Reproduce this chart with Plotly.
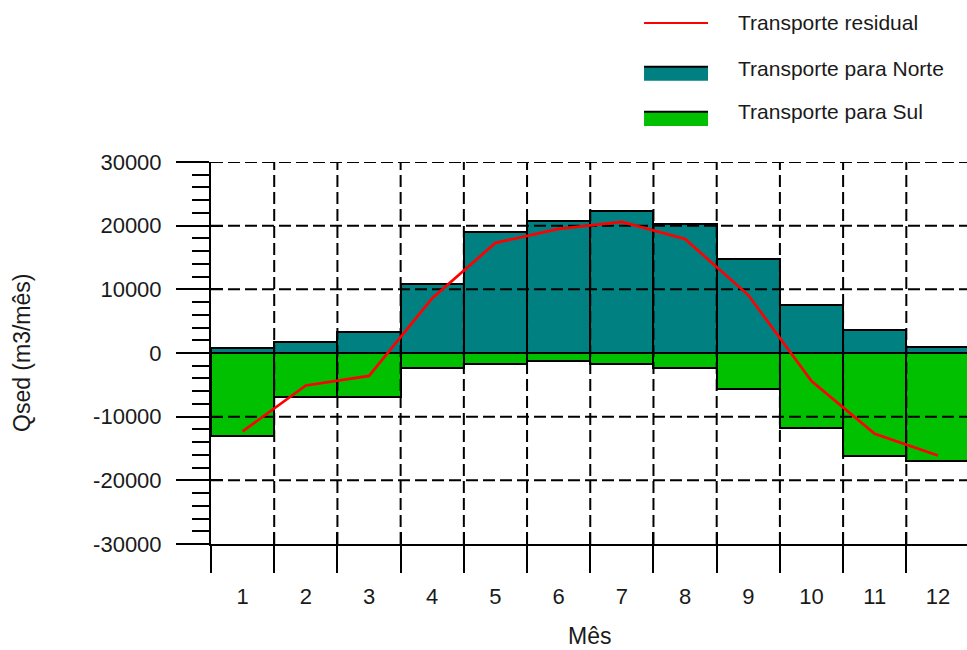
import plotly.graph_objects as go

# Monthly sediment transport (m3/month)
meses = list(range(1, 13))
rotulos_mes = [str(m) for m in meses]
transporte_norte = [800, 1700, 3300, 10800, 19000, 20800, 22300, 20200, 14800, 7500, 3600, 1000]
transporte_sul = [-13000, -6900, -6900, -2300, -1700, -1200, -1700, -2350, -5600, -11800, -16200, -16900]
transporte_residual = [-12300, -5100, -3600, 8600, 17300, 19500, 20600, 17900, 9100, -4400, -12700, -16100]

y_ticks = [-30000, -20000, -10000, 0, 10000, 20000, 30000]
y_ticktext = [str(v) for v in y_ticks]

FONT = "Liberation Sans, Arial, sans-serif"
TEXT = "#1a1a1a"
TEAL = "rgb(0,128,128)"
GREEN = "rgb(0,192,0)"

x_range = [0.5, 12.46]
y_range = [-30000, 30000]
fronteiras = [m + 0.5 for m in [0] + meses]

fig = go.Figure()

fig.add_trace(go.Bar(
    x=meses, y=transporte_norte, name="Transporte para Norte",
    marker=dict(color=TEAL, line=dict(color="black", width=2)),
    showlegend=False,
))
fig.add_trace(go.Bar(
    x=meses, y=transporte_sul, name="Transporte para Sul",
    marker=dict(color=GREEN, line=dict(color="black", width=2)),
    showlegend=False,
))

# dashed grid drawn over the bars
gx, gy = [], []
for v in y_ticks[1:]:
    gx += [fronteiras[0], fronteiras[-1], None]
    gy += [v, v, None]
for b in fronteiras[1:]:
    gx += [b, b, None]
    gy += [y_range[0], y_range[1], None]
fig.add_trace(go.Scatter(
    x=gx, y=gy, mode="lines", hoverinfo="skip", showlegend=False,
    line=dict(color="black", width=2, dash="12px,5px"),
))

fig.add_trace(go.Scatter(
    x=meses, y=transporte_residual, name="Transporte residual",
    mode="lines", line=dict(color="red", width=2.7), showlegend=False,
))

# empty traces so the overlay tick axes get drawn
for xa, ya in [("x2", "y"), ("x3", "y"), ("x", "y2")]:
    fig.add_trace(go.Scatter(
        x=[None], y=[None], xaxis=xa, yaxis=ya, mode="markers",
        hoverinfo="skip", showlegend=False,
    ))

axis_common = dict(showgrid=False, zeroline=False)

fig.update_layout(
    width=967, height=650,
    margin=dict(l=211, r=0, t=162, b=106),
    paper_bgcolor="white", plot_bgcolor="white",
    barmode="relative", bargap=0,
    font=dict(family=FONT, color=TEXT),
    xaxis=dict(
        range=x_range, tickmode="array", tickvals=meses, ticktext=rotulos_mes,
        ticks="", showline=True, linecolor="black", linewidth=2,
        tickfont=dict(family=FONT, size=22, color=TEXT),
        ticklabelstandoff=32, **axis_common,
    ),
    xaxis2=dict(
        overlaying="x", anchor="y", side="bottom", range=x_range,
        tickmode="array", tickvals=fronteiras, ticks="outside", ticklen=28,
        tickwidth=2, tickcolor="black", showticklabels=False, showline=False,
        **axis_common,
    ),
    xaxis3=dict(
        overlaying="x", anchor="y", side="bottom", range=x_range,
        tickmode="array", tickvals=fronteiras, ticks="inside", ticklen=12,
        tickwidth=2, tickcolor="black", showticklabels=False, showline=False,
        **axis_common,
    ),
    yaxis=dict(
        range=y_range, tickmode="array", tickvals=y_ticks, ticktext=y_ticktext,
        ticks="outside", ticklen=33, tickwidth=2, tickcolor="black",
        minor=dict(ticks="outside", ticklen=17, tickwidth=2, tickcolor="black",
                   tickmode="linear", tick0=0, dtick=2000, showgrid=False),
        showline=True, linecolor="black", linewidth=2,
        tickfont=dict(family=FONT, size=22, color=TEXT),
        ticklabelstandoff=10, **axis_common,
    ),
    yaxis2=dict(
        overlaying="y", anchor="x", side="left", range=y_range,
        tickmode="array", tickvals=y_ticks, ticks="inside", ticklen=12,
        tickwidth=2, tickcolor="black", showticklabels=False, showline=False,
        **axis_common,
    ),
)

# axis titles
fig.add_annotation(
    text="Qsed (m3/mês)", xref="paper", yref="paper", x=-0.25, y=0.5,
    xanchor="center", yanchor="middle", textangle=-90, showarrow=False,
    font=dict(family=FONT, size=23, color=TEXT),
)
fig.add_annotation(
    text="Mês", xref="paper", yref="paper", x=0.5, y=-0.241,
    xanchor="center", yanchor="middle", showarrow=False,
    font=dict(family=FONT, size=23, color=TEXT),
)

# legend
sx0, sx1, tx = 0.5728, 0.6574, 0.6945
fig.add_shape(type="line", xref="paper", yref="paper", x0=sx0, x1=sx1,
              y0=1.364, y1=1.364, line=dict(color="red", width=2))
for cor, y0, y1 in [(TEAL, 1.2128, 1.2495), (GREEN, 1.0942, 1.1317)]:
    fig.add_shape(type="rect", xref="paper", yref="paper", x0=sx0, x1=sx1,
                  y0=y0, y1=y1, fillcolor=cor, line=dict(width=0))
    fig.add_shape(type="line", xref="paper", yref="paper", x0=sx0, x1=sx1,
                  y0=y1, y1=y1, line=dict(color="black", width=2))
for nome, y in [("Transporte residual", 1.364),
                ("Transporte para Norte", 1.246),
                ("Transporte para Sul", 1.1335)]:
    fig.add_annotation(
        text=nome, xref="paper", yref="paper", x=tx, y=y,
        xanchor="left", yanchor="middle", showarrow=False,
        font=dict(family=FONT, size=21, color=TEXT),
    )

fig.write_html("out.html")
